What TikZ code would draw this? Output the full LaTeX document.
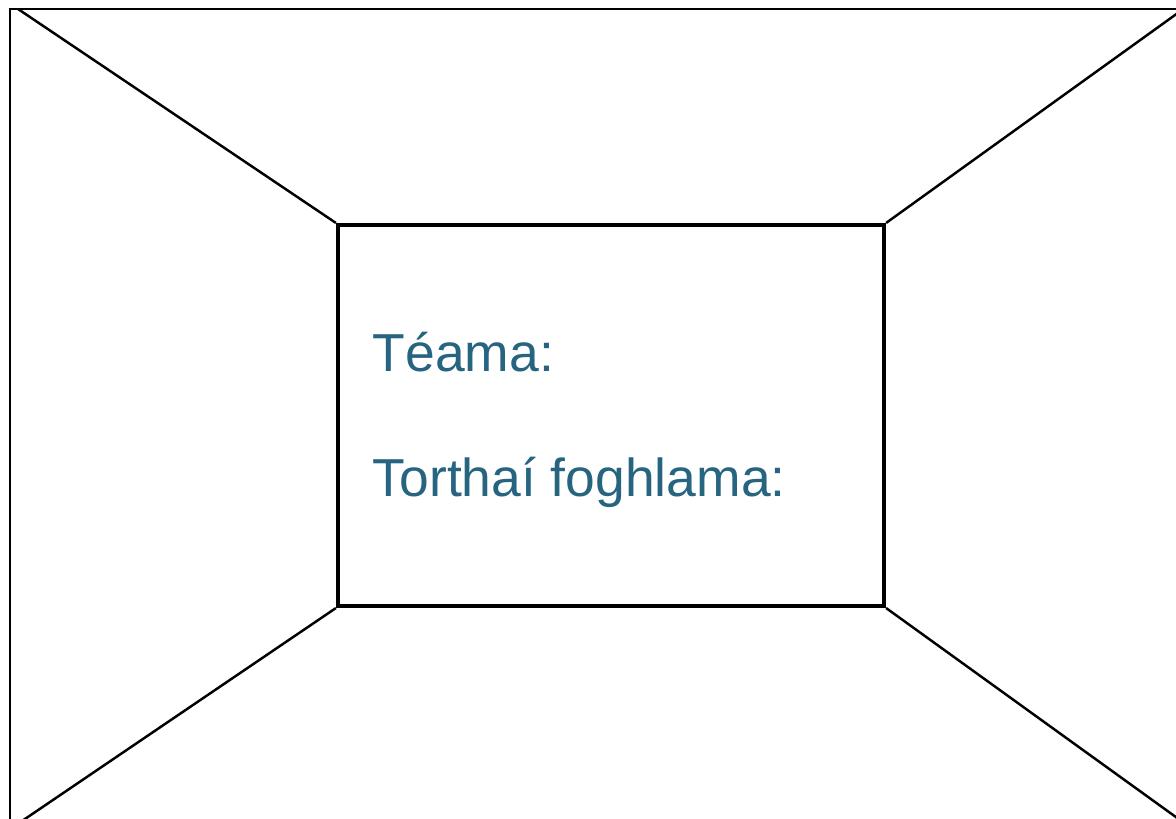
\documentclass[tikz,border=0pt]{standalone}
\usepackage{fontspec}
\setmainfont{Liberation Sans}
\definecolor{themeblue}{RGB}{38,100,128}
\tikzset{
	frame/.style = {line width=0.6pt, black},
	diag/.style = {line width=0.7pt, black},
	board/.style = {draw, line width=1.1pt, minimum width=5.46cm, minimum height=3.81cm, inner sep=0},
	heading/.style = {text=themeblue, font=\fontsize{15.2}{18}\selectfont, anchor=base west, inner sep=0}
}
\begin{document}
\begin{tikzpicture}[x=0.01cm, y=-0.01cm]
	\useasboundingbox (0,0) rectangle (1176,819);
	\draw [frame] (10,830) -- (10,9) -- (1190,9);
	\node [board] (inner) at (611,415.5) {};
	\node [heading] (theme) at (372,372) {Téama:};
	\node [heading] (outcomes) at (372,497) {Torthaí foghlama:};
	% corner points of the room
	\coordinate (tl) at (18,9);
	\coordinate (tr) at (1182,10);
	\coordinate (bl) at (22,821);
	\coordinate (br) at (1180,820);
	\draw [diag] (inner.north west) -- (tl);
	\draw [diag] (inner.north east) -- (tr);
	\draw [diag] (inner.south west) -- (bl);
	\draw [diag] (inner.south east) -- (br);
\end{tikzpicture}
\end{document}
